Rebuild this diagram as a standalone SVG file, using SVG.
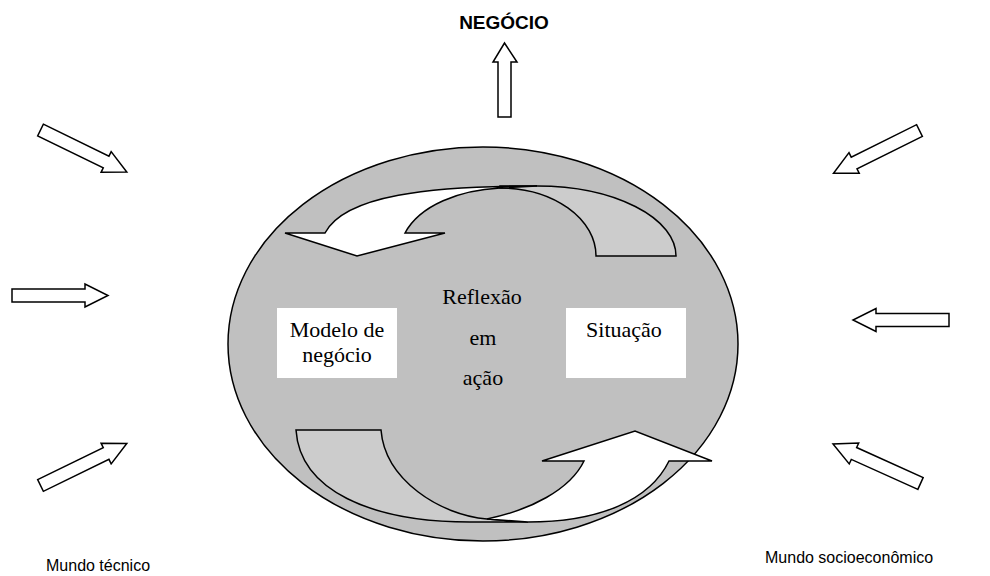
<svg xmlns="http://www.w3.org/2000/svg" width="990" height="576" viewBox="0 0 990 576">
<style>
.ln{stroke:#000;stroke-width:1.5;stroke-linejoin:miter}
.blk{fill:#fff;stroke:#000;stroke-width:1.5}
.serif{font-family:"Liberation Serif","Times New Roman",serif;font-size:22px;fill:#000}
.sans{font-family:"Liberation Sans",Arial,sans-serif;font-size:16px;fill:#000}
.title{font-family:"Liberation Sans",Arial,sans-serif;font-size:19px;font-weight:bold;fill:#000}
</style>
<defs>
<path id="barrow" d="M0,-6.5 L73,-6.5 L73,-11.5 L96,0 L73,11.5 L73,6.5 L0,6.5 Z"/>
</defs>
<rect width="990" height="576" fill="#fff"/>
<g id="ellipse">
<ellipse cx="483" cy="344" rx="255" ry="197" fill="#c0c0c0" class="ln"/>
</g>
<g id="top-cycle-arrow">
<path d="M676,256 A139,70 0 0 0 537,186 L500,186 L500,188 A96,68 0 0 1 596,256 Z" fill="#cccccc" class="ln"/>
<path d="M537,186 C430,186 345,195 325,233 L285,233 L357,256 L445,233 L405,233 C420,205 460,190 500,188 Z" fill="#fff" class="ln"/>
</g>
<g id="bottom-cycle-arrow">
<path d="M296,430 L381,430 C385,480 440,515 487,519 L528,522 L470,522 C370,522 300,490 296,430 Z" fill="#cccccc" class="ln"/>
<path d="M487,519 C530,510 570,490 584,461 L542,461 L635,431 L712,461 L669,461 C650,500 600,522 528,522 Z" fill="#fff" class="ln"/>
</g>
<g id="modelo">
<rect x="277" y="308" width="120" height="70" fill="#fff"/>
<text class="serif" text-anchor="middle"><tspan x="337" y="337">Modelo de</tspan><tspan x="337" y="362">negócio</tspan></text>
</g>
<g id="situacao">
<rect x="566" y="308" width="120" height="70" fill="#fff"/>
<text class="serif" text-anchor="middle" x="624" y="337">Situação</text>
</g>
<g id="reflexao">
<text class="serif" text-anchor="middle"><tspan x="482" y="304">Reflexão</tspan><tspan x="483" y="345">em</tspan><tspan x="483" y="385">ação</tspan></text>
</g>
<g id="negocio">
<text class="title" text-anchor="middle" x="504" y="29">NEGÓCIO</text>
<path d="M498,117 L498,62 L493,62 L504.5,43 L517,62 L511,62 L511,117 Z" class="blk"/>
</g>
<g id="outer-arrows">
<use href="#barrow" class="blk" transform="translate(40.5,130) rotate(26)"/>
<use href="#barrow" class="blk" transform="translate(12,295.5)"/>
<use href="#barrow" class="blk" transform="translate(40.5,485.5) rotate(-26)"/>
<use href="#barrow" class="blk" transform="translate(919.5,130.5) rotate(153.6)"/>
<use href="#barrow" class="blk" transform="translate(949,320) rotate(180)"/>
<use href="#barrow" class="blk" transform="translate(920.5,483.5) rotate(204.3)"/>
</g>
<g id="labels">
<text class="sans" x="46" y="571">Mundo técnico</text>
<text class="sans" x="765" y="563">Mundo socioeconômico</text>
</g>
</svg>
